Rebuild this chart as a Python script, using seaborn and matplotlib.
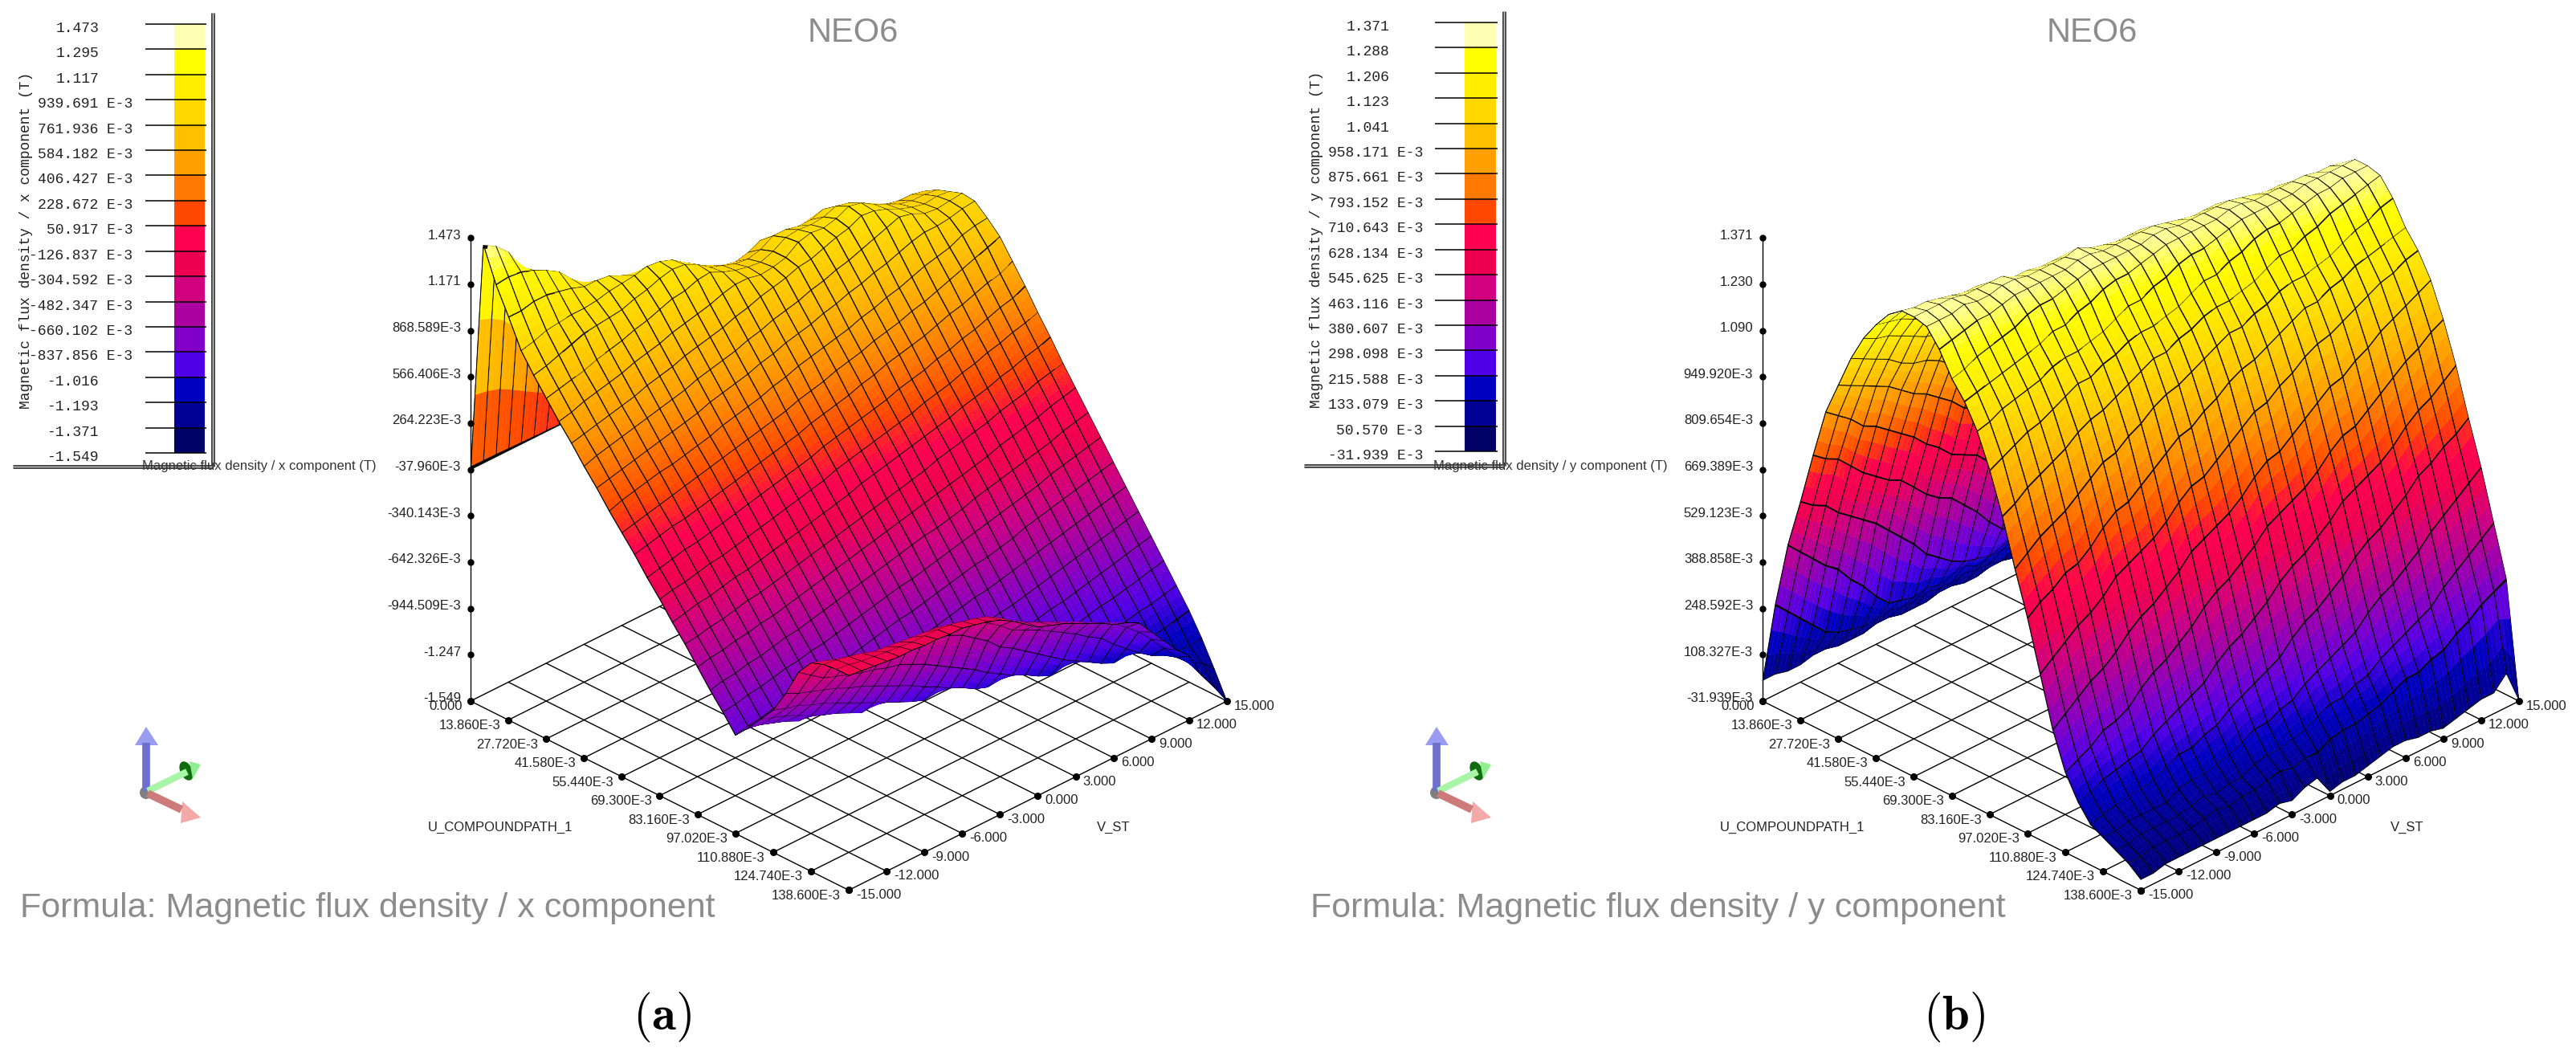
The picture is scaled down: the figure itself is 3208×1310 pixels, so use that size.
import numpy as np
import matplotlib
matplotlib.use('Agg')
import matplotlib.pyplot as plt
import seaborn as sns
from matplotlib.patches import Circle, Ellipse, Polygon, Rectangle
from mpl_toolkits.mplot3d import proj3d

W, H = 3208, 1310

# legend colours, top band first
band_colors = ['#FFFFB4', '#FFFF00', '#FFEE00', '#FFD800', '#FFC000', '#FFA000', '#FF7800', '#FF4800', '#FF0050',
               '#EE0050', '#D0007F', '#AA00A0', '#8000C8', '#5000E6', '#0000C0', '#000094', '#000066']

legend_x_values = [1.473, 1.295, 1.117, 0.939691, 0.761936, 0.584182, 0.406427, 0.228672, 0.050917, -0.126837,
                   -0.304592, -0.482347, -0.660102, -0.837856, -1.016, -1.193, -1.371, -1.549]
legend_x_labels = ['1.473', '1.295', '1.117', '939.691 E-3', '761.936 E-3', '584.182 E-3', '406.427 E-3',
                   '228.672 E-3', '50.917 E-3', '-126.837 E-3', '-304.592 E-3', '-482.347 E-3', '-660.102 E-3',
                   '-837.856 E-3', '-1.016', '-1.193', '-1.371', '-1.549']
legend_y_values = [1.371, 1.288, 1.206, 1.123, 1.041, 0.958171, 0.875661, 0.793152, 0.710643, 0.628134, 0.545625,
                   0.463116, 0.380607, 0.298098, 0.215588, 0.133079, 0.05057, -0.031939]
legend_y_labels = ['1.371', '1.288', '1.206', '1.123', '1.041', '958.171 E-3', '875.661 E-3', '793.152 E-3',
                   '710.643 E-3', '628.134 E-3', '545.625 E-3', '463.116 E-3', '380.607 E-3', '298.098 E-3',
                   '215.588 E-3', '133.079 E-3', '50.570 E-3', '-31.939 E-3']

u_ticks = [0.0, 0.01386, 0.02772, 0.04158, 0.05544, 0.0693, 0.08316, 0.09702, 0.11088, 0.12474, 0.1386]
u_tick_labels = ['0.000', '13.860E-3', '27.720E-3', '41.580E-3', '55.440E-3', '69.300E-3', '83.160E-3', '97.020E-3',
                 '110.880E-3', '124.740E-3', '138.600E-3']
v_ticks = [-15, -12, -9, -6, -3, 0, 3, 6, 9, 12, 15]
v_tick_labels = ['-15.000', '-12.000', '-9.000', '-6.000', '-3.000', '0.000', '3.000', '6.000', '9.000', '12.000',
                 '15.000']

z_x_ticks = [1.473, 1.171, 0.868589, 0.566406, 0.264223, -0.03796, -0.340143, -0.642326, -0.944509, -1.247, -1.549]
z_x_labels = ['1.473', '1.171', '868.589E-3', '566.406E-3', '264.223E-3', '-37.960E-3', '-340.143E-3', '-642.326E-3',
              '-944.509E-3', '-1.247', '-1.549']
z_y_ticks = [1.371, 1.23, 1.09, 0.94992, 0.809654, 0.669389, 0.529123, 0.388858, 0.248592, 0.108327, -0.031939]
z_y_labels = ['1.371', '1.230', '1.090', '949.920E-3', '809.654E-3', '669.389E-3', '529.123E-3', '388.858E-3',
              '248.592E-3', '108.327E-3', '-31.939E-3']

# mesh nodes
u_mesh = [0.0, 0.00462, 0.00924, 0.01386, 0.01848, 0.0231, 0.02772, 0.03234, 0.03696, 0.04158, 0.0462, 0.05082,
          0.05544, 0.06006, 0.06468, 0.0693, 0.07392, 0.07854, 0.08316, 0.08778, 0.0924, 0.09702, 0.10164, 0.10626,
          0.11088, 0.1155, 0.12012, 0.12474, 0.12936, 0.13398, 0.1386]
v_mesh = [-15, -14, -13, -12, -11, -10, -9, -8, -7, -6, -5, -4, -3, -2, -1, 0, 1, 2, 3, 4, 5, 6, 7, 8, 9, 10, 11, 12,
          13, 14, 15]

# flux density in hundredths of a tesla: one row per u, one column per v
bx_cents = [
    [-4,-4,-4,-4,-4,-4,-4,-4,-4,-4,-4,-4,-4,-4,-4,-4,-4,-4,-4,-4,-4,-4,-4,-4,-4,-4,-4,-4,-4,-4,-4],
    [147,142,134,120,105,90,78,68,60,54,50,43,40,37,33,31,29,28,27,28,28,26,26,26,25,23,22,20,20,19,19],
    [125,126,125,122,118,113,104,97,90,84,78,74,70,64,59,55,52,50,50,52,51,49,48,49,46,43,40,38,37,36,36],
    [108,108,110,110,108,106,103,103,102,98,95,94,90,84,77,73,69,67,67,70,69,66,66,68,64,60,56,53,51,51,50],
    [90,92,95,96,97,97,98,100,101,102,104,103,100,94,88,84,80,78,80,84,82,80,80,82,78,74,69,65,63,63,62],
    [78,80,83,86,89,90,91,92,95,97,100,102,101,97,91,88,85,84,86,91,91,89,89,92,89,84,79,75,73,73,72],
    [67,69,71,73,76,78,80,83,85,88,91,92,95,96,92,89,87,86,89,94,95,94,95,98,96,92,87,83,81,81,79],
    [56,58,61,63,65,67,70,72,74,77,79,81,83,86,88,88,86,87,89,95,97,96,98,102,100,95,91,87,85,85,84],
    [46,48,50,52,54,56,59,61,63,66,68,70,72,75,77,80,82,84,87,88,91,94,96,100,99,96,92,89,87,88,87],
    [35,38,40,42,44,46,48,50,52,55,57,59,61,64,66,69,71,73,76,78,81,83,86,89,92,95,93,89,88,89,90],
    [25,27,29,31,33,35,37,39,41,44,46,48,50,53,55,58,60,62,65,67,70,72,75,77,80,83,85,85,86,88,89],
    [14,17,19,21,23,24,26,28,30,33,35,37,39,42,44,47,49,51,53,55,58,60,63,65,68,71,73,75,79,81,82],
    [4,6,8,10,12,14,16,18,20,22,24,26,28,30,33,35,37,40,42,44,47,49,51,54,56,59,62,65,68,71,74],
    [-6,-4,-2,0,1,3,5,7,9,11,13,15,17,19,22,24,26,28,31,33,36,38,40,42,45,48,50,53,56,58,62],
    [-17,-15,-13,-11,-10,-8,-6,-4,-2,0,2,4,6,8,11,13,15,17,19,21,24,26,28,31,33,36,38,41,44,46,50],
    [-27,-25,-24,-22,-20,-19,-17,-15,-13,-11,-9,-7,-5,-3,0,2,4,6,8,10,12,15,17,19,22,24,27,29,32,34,37],
    [-38,-36,-34,-33,-31,-29,-28,-26,-24,-22,-20,-18,-16,-14,-12,-9,-7,-5,-3,-1,1,3,5,8,10,12,15,17,20,22,25],
    [-48,-47,-45,-44,-42,-40,-39,-37,-35,-33,-31,-29,-27,-25,-23,-21,-19,-17,-15,-13,-10,-8,-6,-4,-2,1,3,5,8,10,12],
    [-59,-57,-56,-54,-53,-51,-50,-48,-46,-44,-42,-40,-38,-36,-34,-32,-30,-28,-26,-24,-22,-20,-18,-16,-13,-11,-9,-7,-4,-2,0],
    [-70,-68,-67,-65,-64,-62,-60,-59,-57,-55,-53,-51,-49,-47,-45,-43,-41,-39,-38,-36,-34,-31,-29,-27,-25,-23,-21,-19,-16,-14,-12],
    [-80,-79,-77,-76,-74,-72,-71,-69,-68,-66,-64,-62,-60,-58,-56,-55,-53,-51,-49,-47,-45,-43,-41,-39,-37,-35,-32,-30,-28,-26,-24],
    [-91,-89,-88,-86,-85,-83,-82,-80,-78,-77,-75,-73,-71,-69,-68,-66,-64,-62,-60,-58,-57,-55,-53,-50,-48,-46,-44,-42,-40,-38,-36],
    [-82,-84,-87,-90,-94,-94,-92,-91,-89,-87,-86,-84,-82,-80,-79,-77,-75,-73,-71,-70,-68,-66,-64,-62,-60,-58,-56,-54,-52,-50,-48],
    [-72,-75,-78,-82,-86,-90,-93,-97,-101,-100,-97,-95,-94,-92,-91,-89,-87,-85,-83,-81,-80,-78,-76,-74,-72,-70,-68,-66,-64,-62,-60],
    [-62,-65,-67,-71,-74,-78,-82,-86,-90,-94,-98,-102,-105,-104,-102,-100,-98,-96,-95,-93,-91,-89,-87,-86,-84,-82,-80,-78,-76,-74,-72],
    [-47,-51,-54,-57,-60,-64,-67,-71,-75,-79,-83,-88,-92,-97,-101,-106,-109,-108,-106,-104,-103,-101,-99,-97,-95,-93,-92,-90,-88,-86,-84],
    [-29,-35,-41,-44,-47,-50,-52,-55,-57,-61,-65,-70,-75,-80,-85,-91,-96,-101,-105,-110,-114,-112,-111,-109,-107,-105,-103,-101,-100,-98,-96],
    [-19,-22,-25,-28,-31,-32,-34,-36,-38,-40,-42,-46,-50,-56,-62,-70,-75,-81,-87,-93,-99,-104,-109,-114,-118,-117,-115,-113,-112,-110,-108],
    [-16,-17,-19,-21,-24,-25,-26,-27,-28,-29,-31,-34,-37,-42,-48,-55,-59,-63,-68,-73,-78,-84,-89,-97,-104,-111,-117,-121,-123,-123,-122],
    [-15,-16,-18,-19,-20,-21,-22,-22,-22,-23,-25,-27,-30,-35,-41,-46,-50,-54,-58,-62,-67,-71,-75,-82,-89,-98,-108,-118,-126,-130,-138],
    [-15,-16,-17,-18,-19,-19,-20,-20,-21,-21,-23,-25,-28,-33,-39,-45,-48,-51,-55,-59,-63,-68,-71,-75,-85,-95,-105,-113,-130,-142,-155],
]

by_cents = [
    [3,3,2,2,3,3,2,2,2,3,3,2,2,2,3,3,2,2,3,3,2,2,2,3,2,2,3,3,2,2,3],
    [28,24,20,16,12,10,9,8,8,9,8,8,9,8,8,9,8,8,7,8,8,9,8,8,9,8,8,8,8,9,8],
    [48,44,40,36,33,28,24,19,15,14,13,14,13,14,15,13,14,14,13,14,14,13,14,15,14,13,14,14,13,14,14],
    [63,60,58,54,51,48,45,41,37,33,28,25,22,20,19,18,19,20,19,18,19,20,19,18,19,20,19,18,19,19,20],
    [79,76,74,70,66,63,60,58,54,50,47,45,41,37,32,28,26,25,24,23,24,25,24,23,24,24,25,24,23,24,25],
    [94,91,88,84,82,79,76,73,69,66,62,60,58,54,50,47,44,40,37,33,30,30,29,28,29,30,29,28,29,30,29],
    [104,102,100,98,96,93,90,88,85,82,78,76,74,70,65,62,60,58,54,50,47,44,41,37,34,34,33,33,34,34,33],
    [114,112,110,108,105,103,102,100,97,95,93,91,89,85,81,78,76,74,69,65,62,60,58,54,50,47,44,41,39,38,38],
    [122,120,119,117,115,113,112,110,107,105,103,102,101,98,95,93,91,89,85,81,78,76,74,69,65,62,60,57,54,51,48],
    [128,127,126,124,122,121,120,119,116,115,113,112,111,108,105,103,102,101,98,95,93,91,89,85,81,78,76,73,69,66,63],
    [133,132,131,130,128,127,127,126,123,122,121,120,120,117,115,113,112,111,108,105,103,102,101,98,95,93,91,88,85,82,79],
    [136,135,135,134,133,132,132,131,129,128,127,127,127,124,122,121,120,120,117,115,113,112,111,108,105,103,102,100,98,96,94],
    [136,136,136,136,135,135,135,135,133,133,132,132,132,130,128,127,127,127,124,122,121,120,120,117,115,113,112,110,108,106,104],
    [135,135,135,136,135,135,136,136,135,135,135,135,136,134,133,132,132,132,130,128,127,127,127,124,122,121,120,119,117,116,114],
    [130,131,132,133,133,134,135,135,135,135,135,136,136,135,135,135,135,135,134,133,132,132,132,130,128,127,127,126,124,123,122],
    [123,124,126,127,128,129,131,132,132,133,134,135,135,135,135,135,136,136,135,135,135,135,135,134,133,132,132,131,130,129,128],
    [118,119,120,121,122,123,124,126,126,128,129,131,132,132,133,134,135,135,135,135,135,136,136,135,135,135,135,135,134,134,133],
    [111,112,114,115,116,117,119,120,120,121,122,124,126,126,128,129,131,132,132,133,134,135,135,135,135,135,136,136,136,136,136],
    [101,103,105,107,108,110,112,114,114,116,117,119,120,120,121,122,124,126,126,128,129,131,132,132,133,134,135,135,136,136,136],
    [89,91,94,96,98,100,103,105,106,108,110,112,114,114,116,117,119,120,120,121,122,124,126,126,128,129,131,132,133,134,135],
    [75,78,81,83,85,88,91,94,95,98,100,103,105,106,108,110,112,114,114,116,117,119,120,120,121,122,124,126,127,129,130],
    [62,65,67,70,71,74,78,81,82,85,88,91,94,95,98,100,103,105,106,108,110,112,114,114,116,117,119,120,121,122,123],
    [47,50,53,56,58,61,65,67,69,71,74,78,81,82,85,88,91,94,95,98,100,103,105,106,108,110,112,114,115,117,118],
    [32,35,38,41,43,46,50,53,55,58,61,65,67,69,71,74,78,81,82,85,88,91,94,95,98,100,103,105,107,109,111],
    [21,23,25,28,29,31,35,38,40,43,46,50,53,55,58,61,65,67,69,71,74,78,81,82,85,88,91,94,96,99,101],
    [14,15,17,18,19,20,23,25,27,29,31,35,38,40,43,46,50,53,55,58,61,65,67,69,71,74,78,81,83,86,89],
    [9,10,11,12,12,13,15,17,17,19,20,23,25,27,29,31,35,38,40,43,46,50,53,55,58,61,65,67,70,72,75],
    [7,7,8,8,8,8,10,11,11,12,13,15,17,17,19,20,23,25,27,29,31,35,38,40,43,46,50,53,56,59,62],
    [5,5,6,6,6,6,7,8,7,8,8,10,11,11,12,13,15,17,17,19,20,23,25,27,29,31,35,38,41,44,47],
    [3,3,4,4,4,4,5,6,5,6,6,7,8,7,8,8,10,11,11,12,13,15,17,17,19,20,23,25,28,30,32],
    [0,0,1,1,1,1,1,1,1,1,1,2,1,3,4,-2,-1,-1,0,1,2,2,1,1,0,1,2,3,3,7,-3],
]

sns.set_theme(style='white')
plt.rcParams['font.family'] = ['Liberation Sans', 'DejaVu Sans']
plt.rcParams['mathtext.fontset'] = 'cm'
plt.rcParams['savefig.dpi'] = 100

surface_cmap = sns.blend_palette(band_colors[::-1], n_colors=256, as_cmap=True)

fig = plt.figure(figsize=(W / 100, H / 100), dpi=100, facecolor='white')

page = fig.add_axes([0, 0, 1, 1], zorder=10)
page.set_xlim(0, W)
page.set_ylim(H, 0)
page.axis('off')
page.patch.set_alpha(0)


def fit_cube(ax, left_x, right_x, corner_y):
    # scale and move the square axes until the floor corners land on the wanted pixels
    size = 1400.0
    ax.set_position([0, 0, size / W, size / H])
    M = ax.get_proj()
    xs, ys, _ = proj3d.proj_transform(np.array([0.0, 0.1386]), np.array([-15.0, 15.0]),
                                      np.array(ax.get_zlim()[0]).repeat(2), M)
    pix = ax.transData.transform(np.c_[xs, ys])
    size *= (right_x - left_x) / (pix[1, 0] - pix[0, 0])
    ax.set_position([0, 0, size / W, size / H])
    pix = ax.transData.transform(np.c_[xs, ys])
    x0 = left_x - pix[0, 0]
    y0 = (H - corner_y) - pix[0, 1]
    ax.set_position([x0 / W, y0 / H, size / W, size / H])


def label3d(ax, x, y, z, text, dx, dy, ha):
    px, py, _ = proj3d.proj_transform(x, y, z, ax.get_proj())
    ax.annotate(text, xy=(px, py), xycoords='data', xytext=(dx, dy), textcoords='offset pixels', ha=ha, va='center',
                fontsize=12, color='#222222', annotation_clip=False, zorder=5)


def shading_steps(n, w):
    # Gouraud-style shading: each cell is painted in 3 tints, with a thin black strip on every mesh line
    steps = [0.0, w]
    for k in range(n - 1):
        steps += [k + 1 / 3, k + 2 / 3, k + 1 - w]
        steps += [k + 1 + w] if k < n - 2 else [k + 1.0]
    return np.array(steps)


def smooth_mesh(zz):
    nu, nv = zz.shape
    # u cells stretch much further on screen than v cells, so their strips are narrower
    pu, pv = shading_steps(nu, 0.016), shading_steps(nv, 0.035)
    iu = np.minimum(pu.astype(int), nu - 2)
    iv = np.minimum(pv.astype(int), nv - 2)
    fu, fv = pu - iu, pv - iv
    across = zz[iu] * (1 - fu)[:, None] + zz[iu + 1] * fu[:, None]
    fine = across[:, iv] * (1 - fv) + across[:, iv + 1] * fv
    return pu, pv, fine


def draw_surface(cents, z_ticks, z_labels, left_x):
    ax = fig.add_axes([0, 0, 0.3, 0.3], projection='3d')
    ax.set_proj_type('ortho')
    ax.view_init(elev=30, azim=-45)
    ax.set_box_aspect((1, 1, 1))
    ax.computed_zorder = False
    ax.set_axis_off()
    zmax, zmin = z_ticks[0], z_ticks[-1]

    zz = np.array(cents) / 100.0
    pu, pv, fine = smooth_mesh(zz)
    uu, vv = np.meshgrid(np.interp(pu, np.arange(len(u_mesh)), u_mesh), np.interp(pv, np.arange(len(v_mesh)), v_mesh),
                         indexing='ij')
    mean_z = (fine[:-1, :-1] + fine[1:, :-1] + fine[:-1, 1:] + fine[1:, 1:]) / 4
    colors = surface_cmap((mean_z - zmin) / (zmax - zmin))
    colors[::4, :] = (0, 0, 0, 1)
    colors[:, ::4] = (0, 0, 0, 1)
    ax.plot_surface(uu, vv, fine, rstride=1, cstride=1, facecolors=colors, shade=False, linewidth=0.35,
                    antialiased=True, zorder=2)

    for u in u_ticks:
        ax.plot([u, u], [v_ticks[0], v_ticks[-1]], [zmin, zmin], color='black', lw=1.0, zorder=1)
        ax.plot([u], [v_ticks[0]], [zmin], 'o', color='black', ms=5.5, zorder=1)
    for v in v_ticks:
        ax.plot([u_ticks[0], u_ticks[-1]], [v, v], [zmin, zmin], color='black', lw=1.0, zorder=1)
        ax.plot([u_ticks[-1]], [v], [zmin], 'o', color='black', ms=5.5, zorder=1)
    ax.plot([u_ticks[0], u_ticks[0]], [v_ticks[0], v_ticks[0]], [zmin, zmax], color='black', lw=1.0, zorder=3)
    ax.plot([u_ticks[0]] * len(z_ticks), [v_ticks[0]] * len(z_ticks), z_ticks, 'o', color='black', ms=5, zorder=3)

    ax.set_xlim(u_ticks[0], u_ticks[-1], view_margin=0)
    ax.set_ylim(v_ticks[0], v_ticks[-1], view_margin=0)
    ax.set_zlim(zmin, zmax, view_margin=0)
    fit_cube(ax, left_x, left_x + 942, 873)

    for z, lab in zip(z_ticks, z_labels):
        label3d(ax, u_ticks[0], v_ticks[0], z, lab, -12, 3, 'right')
    for u, lab in zip(u_ticks, u_tick_labels):
        label3d(ax, u, v_ticks[0], zmin, lab, -10, -7, 'right')
    for v, lab in zip(v_ticks, v_tick_labels):
        label3d(ax, u_ticks[-1], v, zmin, lab, 9, -6, 'left')
    return ax


def draw_legend(values, labels, x0, x1, y0, y1):
    ax = fig.add_axes([x0 / W, 1 - y1 / H, (x1 - x0) / W, (y1 - y0) / H], zorder=5)
    edges = np.array(values)
    mids = ((edges[:-1] + edges[1:]) / 2).reshape(-1, 1)
    sns.heatmap(mids, ax=ax, cmap=band_colors[::-1], vmin=edges[-1], vmax=edges[0], cbar=False, xticklabels=False,
                yticklabels=False)
    ax.hlines(np.arange(len(values)), -0.95, 1.05, color='black', lw=1.1, clip_on=False)
    for k, lab in enumerate(labels):
        dx = -52 if 'E-3' in lab else -94
        ax.annotate(lab, xy=(0, k), xycoords='data', xytext=(dx, -5.5), textcoords='offset pixels', ha='right',
                    va='center', family='Liberation Mono', fontsize=13, color='#222222', annotation_clip=False)


def draw_frame(x_left, x_right, y_top, y_bottom, label_x, caption_x, text_x, text_y):
    page.text(x_right - 88, y_bottom, 'Magnetic flux density / %s component (T)' % text_x, fontsize=12,
              color='#333333', ha='left', va='center')
    page.add_patch(Rectangle((x_right - 92, y_bottom - 12), 96, 24, color='white', alpha=0.8, lw=0))
    for col, lw in (('#444444', 3.6), ('#c4c4c4', 1.0)):
        page.plot([x_right, x_right], [y_top, y_bottom], color=col, lw=lw, solid_capstyle='butt')
        page.plot([x_left, x_right], [y_bottom, y_bottom], color=col, lw=lw, solid_capstyle='butt')
    page.text(label_x, text_y, 'Magnetic flux density / %s component (T)' % text_x, rotation=90,
              family='Liberation Mono', fontsize=13, color='#222222', ha='center', va='center')
    page.text(caption_x, 1266, r'$(\mathbf{%s})$' % text_x.replace('x', 'a').replace('y', 'b'), fontsize=44,
              ha='center', va='center', color='black')


def draw_triad(dx):
    # orientation icon in the lower left of each panel
    page.plot([182 + dx, 182 + dx], [985, 925], color='#6f6fd0', lw=7, solid_capstyle='butt')
    page.add_patch(Polygon([(182 + dx, 905), (197 + dx, 928), (168 + dx, 928)], color='#9a9cf2', lw=0))
    page.plot([184 + dx, 233 + dx], [985, 961], color='#a8f5a8', lw=6, solid_capstyle='butt')
    page.add_patch(Ellipse((232 + dx, 960), 15, 25, angle=-25, color='#0f6d0f', lw=0))
    page.add_patch(Polygon([(250 + dx, 952), (236 + dx, 948), (240 + dx, 970)], color='#8fee8f', lw=0))
    page.plot([184 + dx, 226 + dx], [988, 1008], color='#cc7a7a', lw=7, solid_capstyle='butt')
    page.add_patch(Polygon([(250 + dx, 1018), (227 + dx, 998), (225 + dx, 1025)], color='#f4a9a9', lw=0))
    page.add_patch(Circle((182 + dx, 987), 8, color='#7f7f7f', lw=0))


draw_surface(bx_cents, z_x_ticks, z_x_labels, 586)
draw_surface(by_cents, z_y_ticks, z_y_labels, 2195)

draw_legend(legend_x_values, legend_x_labels, 217, 255, 30, 564)
draw_legend(legend_y_values, legend_y_labels, 1824, 1863, 28, 562)

draw_frame(16, 265, 16, 581, 33, 825, 'x', 299)
draw_frame(1624, 1873, 14, 580, 1640, 2434, 'y', 298)
draw_triad(0)
draw_triad(1607)

grey = '#8c8c8c'
page.text(1062, 41, 'NEO6', fontsize=30, color=grey, ha='center', va='center')
page.text(2605, 41, 'NEO6', fontsize=30, color=grey, ha='center', va='center')
page.text(25, 1131, 'Formula: Magnetic flux density / x component', fontsize=31, color=grey, ha='left', va='center')
page.text(1632, 1131, 'Formula: Magnetic flux density / y component', fontsize=31, color=grey, ha='left', va='center')
page.text(533, 1030, 'U_COMPOUNDPATH_1', fontsize=12, color='#222222', ha='left', va='center')
page.text(2142, 1030, 'U_COMPOUNDPATH_1', fontsize=12, color='#222222', ha='left', va='center')
page.text(1366, 1030, 'V_ST', fontsize=12, color='#222222', ha='left', va='center')
page.text(2977, 1030, 'V_ST', fontsize=12, color='#222222', ha='left', va='center')

fig.savefig('out.png', dpi=100, facecolor='white')
